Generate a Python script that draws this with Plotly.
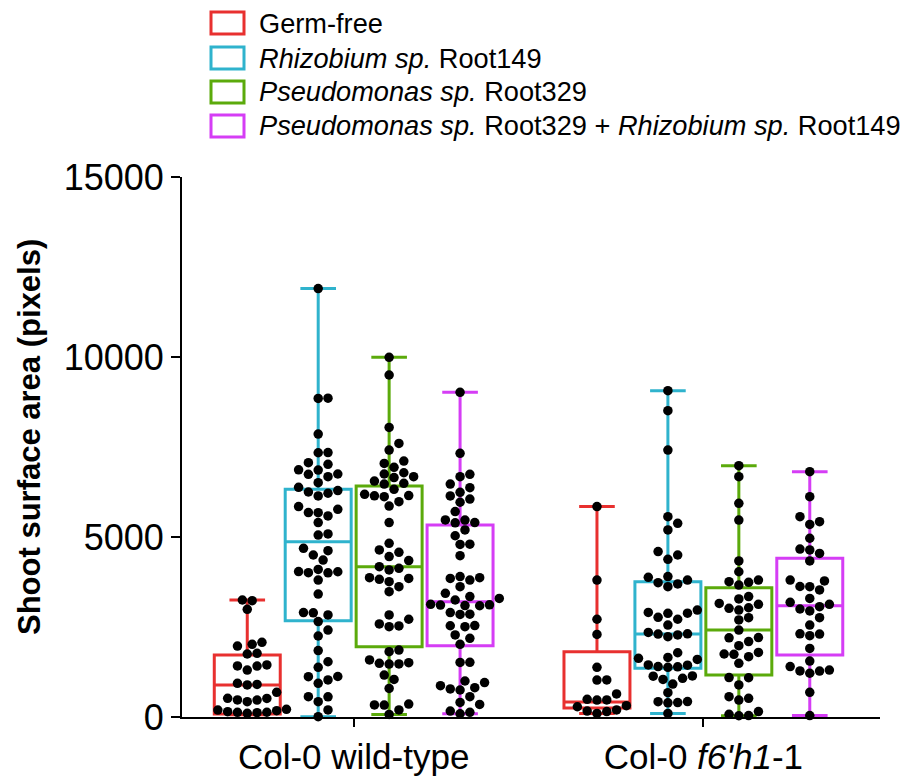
import numpy as np
import plotly.graph_objects as go

# ---------------- data ----------------
groups = ["Col-0 wild-type", "Col-0 <i>f6'h1</i>-1"]
series_names = [
    "Germ-free",
    "<i>Rhizobium sp.</i> Root149",
    "<i>Pseudomonas sp.</i> Root329",
    "<i>Pseudomonas sp.</i> Root329 + <i>Rhizobium sp.</i> Root149",
]
series_colors = ["#E8302F", "#2FB3CD", "#5BAA0B", "#D53DF5"]

wt_germfree = [3230, 3250, 2990, 2075, 2020, 1970, 1770, 1750, 1445, 1415, 1420, 1305,
               935, 905, 890, 685, 520, 470, 475, 425, 515, 194, 148, 120, 102, 130,
               132, 176, 213]
wt_rhizobium = [11900, 8850, 8855, 7860, 7345, 7340, 7065, 7020, 6860, 6750, 6675, 6740,
                6865, 6510, 6380, 6290, 6250, 6215, 6140, 5845, 5770, 5675, 5680, 5585,
                5400, 5085, 5055, 4620, 4685, 4500, 4360, 4100, 4010, 4035, 4005, 4040,
                3805, 3415, 2900, 2895, 2835, 2650, 2415, 2250, 1845, 1535, 1380, 1120,
                1125, 1030, 935, 565, 560, 425, 195, 10]
wt_pseudomonas = [9990, 9500, 8045, 7600, 7415, 7110, 7045, 6935, 6785, 6750, 6675, 6650,
                  6555, 6490, 6470, 6325, 6185, 6150, 6145, 6120, 5980, 5860, 5400, 4825,
                  4640, 4575, 4455, 4345, 4175, 4085, 4130, 3870, 3850, 3825, 3760, 3620,
                  3480, 2835, 2715, 2585, 2510, 2530, 1860, 1815, 1585, 1490, 1470, 1475,
                  1510, 1165, 1045, 795, 335, 330, 360, 195, 70]
wt_combo = [9020, 7325, 6740, 6675, 6470, 6370, 6240, 6140, 6055, 5965, 5705, 5470, 5400,
            5395, 5475, 5195, 5035, 4795, 4800, 4480, 3870, 3805, 3850, 3900, 3620, 3435,
            3345, 3250, 3110, 3095, 3115, 3130, 3090, 3295, 2850, 2855, 2900, 2535, 2510,
            2540, 2280, 2185, 2020, 1520, 1515, 955, 815, 750, 780, 870, 1000, 565, 405,
            350, 165, 130, 90]
f6_germfree = [5845, 3805, 2715, 2295, 1380, 1030, 1025, 640, 470, 475, 490, 285, 165,
               100, 150, 195, 315]
f6_rhizobium = [9065, 8510, 7415, 5565, 5380, 5195, 4595, 4500, 4380, 3880, 3805, 3695,
                3620, 3730, 3900, 2905, 2880, 2885, 2970, 2715, 2770, 2555, 2350, 2305,
                2230, 2280, 2310, 1785, 1630, 1600, 1655, 1445, 1400, 1380, 1395, 1440,
                1140, 1045, 1075, 1135, 915, 675, 425, 400, 395, 430, 100]
f6_pseudomonas = [6980, 6675, 5935, 5470, 4335, 4035, 3760, 3665, 3740, 3805, 3345, 3280,
                  3155, 3035, 2970, 3020, 3130, 2760, 2695, 2415, 2205, 2095, 1980, 2200,
                  1795, 1750, 1675, 1740, 1490, 1095, 1090, 890, 565, 520, 470, 75, 35,
                  40, 150]
f6_combo = [6815, 6120, 5565, 5425, 5350, 4965, 4640, 4665, 4545, 4335, 3780, 3805, 3620,
            3625, 3530, 3295, 3185, 3130, 3000, 3065, 2945, 2760, 2555, 2305, 2260, 2310,
            1905, 1555, 1400, 1280, 1215, 1275, 1305, 685, 40]

# box statistics: [q1, median, q3, min, max]
wt_stats = [
    [80, 890, 1722, 60, 3250],
    [2676, 4870, 6324, 10, 11900],
    [1954, 4176, 6417, 70, 9990],
    [1981, 3204, 5333, 90, 9020],
]
f6_stats = [
    [250, 420, 1815, 100, 5845],
    [1352, 2306, 3759, 100, 9065],
    [1167, 2417, 3590, 35, 6980],
    [1722, 3093, 4407, 40, 6815],
]
y_ticks = [0, 5000, 10000, 15000]

wt_values = [wt_germfree, wt_rhizobium, wt_pseudomonas, wt_combo]
f6_values = [f6_germfree, f6_rhizobium, f6_pseudomonas, f6_combo]

# ---------------- layout geometry ----------------
W, H = 904, 777
M_L, M_R, M_T, M_B = 182, 24, 177, 60
X_RANGE = [0.08, 9.92]
Y_RANGE = [0, 15000]
PLOT_W = W - M_L - M_R
PLOT_H = H - M_T - M_B
PX_PER_X = PLOT_W / (X_RANGE[1] - X_RANGE[0])
PX_PER_Y = PLOT_H / (Y_RANGE[1] - Y_RANGE[0])

group_starts = [1.0, 5.93]
BOX_W = 0.93
FONT = "Liberation Sans, Arial, Helvetica, sans-serif"
DOT = 9.5


def swarm_offsets(vals, d_px=DOT + 0.3, step_px=(DOT + 0.3) / 2):
    vals = np.asarray(vals, dtype=float)
    order = np.argsort(vals, kind="stable")
    placed = []
    offs = np.zeros(len(vals))
    cands = [0.0]
    for m in range(1, 30):
        cands += [m * step_px, -m * step_px]
    for i in order:
        yp = vals[i] * PX_PER_Y
        chosen = cands[-1]
        for c in cands:
            if all((c - px) ** 2 + (yp - py) ** 2 >= d_px ** 2 for px, py in placed):
                chosen = c
                break
        placed.append((chosen, yp))
        offs[i] = chosen
    return offs / PX_PER_X


fig = go.Figure()

all_values = [wt_values, f6_values]
all_stats = [wt_stats, f6_stats]
for g, start in enumerate(group_starts):
    for s in range(4):
        pos = start + s
        q1, med, q3, lo, hi = all_stats[g][s]
        fig.add_trace(go.Box(
            x=[pos], q1=[q1], median=[med], q3=[q3], lowerfence=[lo], upperfence=[hi],
            width=BOX_W, whiskerwidth=0.54, boxpoints=False,
            line=dict(color=series_colors[s], width=3),
            fillcolor="rgba(0,0,0,0)", showlegend=False, hoverinfo="skip",
        ))
for g, start in enumerate(group_starts):
    for s in range(4):
        pos = start + s
        vals = all_values[g][s]
        xo = swarm_offsets(vals)
        fig.add_trace(go.Scatter(
            x=pos + xo, y=vals, mode="markers",
            marker=dict(color="black", size=DOT, line=dict(width=0)),
            showlegend=False, cliponaxis=False, hoverinfo="skip",
        ))


# manual legend (hollow coloured squares + labels)
def px_x(x):
    return (x - M_L) / PLOT_W


def px_y(y):
    return (H - M_B - y) / PLOT_H


legend_rows = [23, 58, 92, 126]
shapes = []
annotations = []
for i, name in enumerate(series_names):
    yc = legend_rows[i]
    shapes.append(dict(type="rect", xref="paper", yref="paper",
                       x0=px_x(211), x1=px_x(244), y0=px_y(yc + 11), y1=px_y(yc - 11),
                       line=dict(color=series_colors[i], width=3),
                       fillcolor="rgba(0,0,0,0)"))
    annotations.append(dict(text=name, xref="paper", yref="paper",
                            x=px_x(257), y=px_y(yc), xanchor="left", yanchor="middle",
                            showarrow=False, font=dict(size=27.2, color="black", family=FONT)))

annotations.append(dict(text="<b>Shoot surface area (pixels)</b>", xref="paper", yref="paper",
                        x=px_x(29), y=px_y(437), textangle=-90, showarrow=False,
                        xanchor="center", yanchor="middle",
                        font=dict(size=31, color="black", family=FONT)))

group_centers = [start + 1.5 for start in group_starts]

fig.update_layout(
    width=W, height=H,
    margin=dict(l=M_L, r=M_R, t=M_T, b=M_B, autoexpand=False),
    plot_bgcolor="white", paper_bgcolor="white",
    font=dict(family=FONT, color="black"),
    shapes=shapes, annotations=annotations,
    xaxis=dict(range=X_RANGE, showgrid=False, zeroline=False, showline=True,
               linecolor="black", linewidth=2, ticks="outside", ticklen=8, tickwidth=2,
               tickcolor="black", tickvals=group_centers, ticktext=groups,
               tickfont=dict(size=35, family=FONT, color="black")),
    yaxis=dict(range=Y_RANGE, showgrid=False, zeroline=False, showline=True,
               linecolor="black", linewidth=2, ticks="outside", ticklen=9, tickwidth=2,
               tickcolor="black", tickvals=y_ticks, ticktext=[str(v) for v in y_ticks],
               tickfont=dict(size=36, family=FONT, color="black")),
)

fig.write_html("out.html", config={"displayModeBar": False},
               post_script="document.body.style.margin='0';document.body.style.overflow='hidden';")
